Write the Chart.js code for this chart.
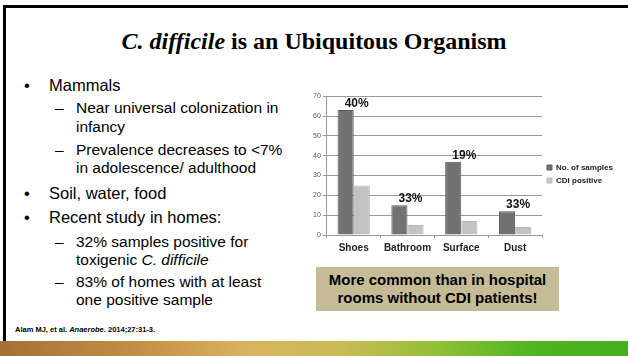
<!DOCTYPE html>
<html>
<head>
<meta charset="utf-8">
<script src="https://cdn.jsdelivr.net/npm/chart.js@4.4.1/dist/chart.umd.min.js"></script>
<style>
html, body { margin: 0; padding: 0; background: #fff; }
#slide { position: relative; width: 628px; height: 356px; overflow: hidden; background: #fff;
  font-family: "Liberation Sans", Arial, sans-serif; color: #000; }
.frameTop { position: absolute; left: 3px; top: 5px; width: 625px; height: 3px; background: #000; }
.frameLeft { position: absolute; left: 3px; top: 5px; width: 3px; height: 336px; background: #000; }
.title { position: absolute; left: 0; width: 628px; top: 26px; text-align: center;
  font-family: "Liberation Serif", "Times New Roman", serif; font-weight: bold; font-size: 24px; line-height: 30px; }
.ln { position: absolute; white-space: nowrap; line-height: 20px; }
.l1 { font-size: 16.5px; }
.l2 { font-size: 15.5px; }
.mark { position: absolute; white-space: nowrap; line-height: 20px; }
.ref { position: absolute; left: 15px; top: 324px; font-size: 7.5px; font-weight: bold; line-height: 12px; }
.callout { position: absolute; left: 316px; top: 267px; width: 243px; height: 44px; background: #c5bc97;
  font-weight: bold; font-size: 15px; line-height: 18px; text-align: center; box-sizing: border-box; padding-top: 4px; }
.strip { position: absolute; left: 0; top: 341px; width: 628px; height: 15px;
  background: linear-gradient(90deg, #a86f35 0%, #c38a45 20%, #d9b560 40%, #c9bb55 55%, #8fbf35 70%, #4fb520 85%, #45b01c 100%); }
#chartBox { position: absolute; left: 311px; top: 90px; width: 311px; height: 168px; }
</style>
</head>
<body>
<div id="slide">
  <div class="frameTop"></div>
  <div class="frameLeft"></div>
  <div class="title"><i>C. difficile</i> is an Ubiquitous Organism</div>

  <div class="mark l1" style="left:24px;top:75px">•</div>
  <div class="ln l1" style="left:49px;top:75px">Mammals</div>
  <div class="mark l2" style="left:55px;top:98px">–</div>
  <div class="ln l2" style="left:76px;top:98px">Near universal colonization in</div>
  <div class="ln l2" style="left:76px;top:117px">infancy</div>
  <div class="mark l2" style="left:55px;top:140px">–</div>
  <div class="ln l2" style="left:76px;top:140px">Prevalence decreases to &lt;7%</div>
  <div class="ln l2" style="left:76px;top:158px">in adolescence/ adulthood</div>
  <div class="mark l1" style="left:24px;top:183px">•</div>
  <div class="ln l1" style="left:49px;top:183px">Soil, water, food</div>
  <div class="mark l1" style="left:24px;top:207px">•</div>
  <div class="ln l1" style="left:49px;top:207px">Recent study in homes:</div>
  <div class="mark l2" style="left:55px;top:232px">–</div>
  <div class="ln l2" style="left:76px;top:232px">32% samples positive for</div>
  <div class="ln l2" style="left:76px;top:250px">toxigenic <i>C. difficile</i></div>
  <div class="mark l2" style="left:55px;top:272px">–</div>
  <div class="ln l2" style="left:76px;top:272px">83% of homes with at least</div>
  <div class="ln l2" style="left:76px;top:290px">one positive sample</div>

  <div class="ref">Alam MJ, et al. <i>Anaerobe.</i> 2014;27:31-3.</div>

  <div id="chartBox"><canvas id="homesChart" width="311" height="168"></canvas></div>

  <div class="callout">More common than in hospital<br>rooms without CDI patients!</div>

  <div class="strip"></div>
</div>

<script>
const categories = ['Shoes', 'Bathroom', 'Surface', 'Dust'];
const samples = [63, 15, 37, 12];
const cdiPositive = [25, 5, 7, 4];
const pctLabels = ['40%', '33%', '19%', '33%'];
const seriesNames = ['No. of samples', 'CDI positive'];

// percent text over each category, sitting on top of the dark bar
const pctPlugin = {
  id: 'pctPlugin',
  afterDatasetsDraw(chart) {
    const ctx = chart.ctx;
    const meta = chart.getDatasetMeta(0);
    const xScale = chart.scales.x;
    ctx.save();
    ctx.font = 'bold 12px "Liberation Sans", Arial, sans-serif';
    ctx.fillStyle = '#111';
    ctx.textAlign = 'center';
    ctx.textBaseline = 'alphabetic';
    pctLabels.forEach((txt, i) => {
      const bar = meta.data[i];
      ctx.fillText(txt, xScale.getPixelForValue(i) + 3, bar.y - 3);
    });
    ctx.restore();
  }
};

const ctx = document.getElementById('homesChart').getContext('2d');
const myChart = new Chart(ctx, {
  type: 'bar',
  data: {
    labels: categories,
    datasets: [{
      label: seriesNames[0],
      data: samples,
      backgroundColor: '#727272',
      borderColor: '#5c5c5c',
      borderWidth: 1,
      barPercentage: 1,
      categoryPercentage: 0.6
    }, {
      label: seriesNames[1],
      data: cdiPositive,
      backgroundColor: '#c2c2c2',
      borderColor: '#b8b8b8',
      borderWidth: 1,
      barPercentage: 1,
      categoryPercentage: 0.6
    }]
  },
  options: {
    responsive: false,
    animation: false,
    layout: { padding: { top: 5, right: 3, left: 0, bottom: 0 } },
    plugins: {
      legend: {
        position: 'right',
        fullSize: false,
        // blank title only nudges the two entries down a bit
        title: { display: true, text: ' ', padding: 0, font: { size: 14 } },
        labels: {
          boxWidth: 5, boxHeight: 5, padding: 5, color: '#222',
          font: { size: 8, weight: 'bold', family: '"Liberation Sans", Arial, sans-serif' }
        }
      },
      tooltip: { enabled: false }
    },
    scales: {
      x: {
        grid: { drawOnChartArea: false, drawTicks: true, tickLength: 3, color: '#999' },
        border: { color: '#999' },
        ticks: { color: '#222', padding: 4, font: { size: 10, weight: 'bold', family: '"Liberation Sans", Arial, sans-serif' } }
      },
      y: {
        min: 0, max: 70,
        grid: { color: '#9a9a9a', tickLength: 4 },
        border: { color: '#9a9a9a' },
        ticks: { stepSize: 10, color: '#555', padding: 2, font: { size: 7, family: '"Liberation Sans", Arial, sans-serif' } }
      }
    }
  },
  plugins: [pctPlugin]
});
</script>
</body>
</html>
